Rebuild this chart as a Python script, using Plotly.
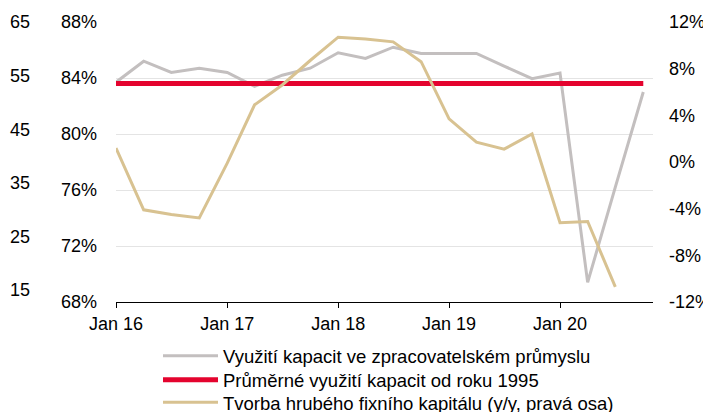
import plotly.graph_objects as go

dates = ["2016-01-01", "2016-04-01", "2016-07-01", "2016-10-01",
         "2017-01-01", "2017-04-01", "2017-07-01", "2017-10-01",
         "2018-01-01", "2018-04-01", "2018-07-01", "2018-10-01",
         "2019-01-01", "2019-04-01", "2019-07-01", "2019-10-01",
         "2020-01-01", "2020-04-01", "2020-07-01", "2020-10-01"]

capacity_util = [83.7, 85.2, 84.4, 84.7, 84.4, 83.4, 84.2, 84.7,
                 85.8, 85.4, 86.2, 85.75, 85.75, 85.75, 84.85, 83.95,
                 84.35, 69.4, 76.2, 83.0]

avg_since_1995 = [83.6] * len(dates)

gfcf_yoy = [1.2, -4.1, -4.5, -4.8, -0.1, 4.9, 6.6, 8.7,
            10.7, 10.55, 10.3, 8.6, 3.7, 1.7, 1.1, 2.4,
            -5.2, -5.1, -10.7]

left_outer_ticks = [15, 25, 35, 45, 55, 65]
left_ticks = [68, 72, 76, 80, 84, 88]
right_ticks = [-12, -8, -4, 0, 4, 8, 12]

names = ["Využití kapacit ve zpracovatelském průmyslu",
         "Průměrné využití kapacit od roku 1995",
         "Tvorba hrubého fixního kapitálu (y/y, pravá osa)"]

GRAY = "#C3BFBF"
RED = "#E4032E"
TAN = "#D8C291"
FONT = "Liberation Sans, Arial, sans-serif"

fig = go.Figure()
fig.add_trace(go.Scatter(x=dates, y=capacity_util, name=names[0], mode="lines",
                         line=dict(color=GRAY, width=3), yaxis="y", legend="legend"))
fig.add_trace(go.Scatter(x=dates, y=avg_since_1995, name=names[1], mode="lines",
                         line=dict(color=RED, width=5), yaxis="y", legend="legend2"))
fig.add_trace(go.Scatter(x=dates[:len(gfcf_yoy)], y=gfcf_yoy, name=names[2], mode="lines",
                         line=dict(color=TAN, width=3), yaxis="y2", legend="legend3"))
# invisible helper so that the outer left scale is drawn
fig.add_trace(go.Scatter(x=[dates[0], dates[-1]], y=[left_outer_ticks[0], left_outer_ticks[-1]],
                         mode="lines", line=dict(width=0), opacity=0, showlegend=False,
                         hoverinfo="skip", yaxis="y3"))

# page body has an 8px margin; the figure overflows the bottom of the window
W, H = 703, 430
x0, x1 = 108 / W, 645 / W
PLOT_TOP, PLOT_BOTTOM = 14, 294
PLOT_H = PLOT_BOTTOM - PLOT_TOP
TICK = 18


def legend_at(top_px):
    return dict(orientation="v", x=150 / W, xanchor="left",
                y=-(top_px - PLOT_BOTTOM) / PLOT_H, yanchor="top",
                font=dict(size=18.5), itemwidth=55, tracegroupgap=0,
                bgcolor="rgba(0,0,0,0)")


fig.update_layout(
    width=W, height=H,
    margin=dict(l=0, r=0, t=PLOT_TOP, b=H - PLOT_BOTTOM, autoexpand=False),
    paper_bgcolor="white", plot_bgcolor="white",
    font=dict(family=FONT, size=TICK, color="#000000"),
    showlegend=True,
    legend=legend_at(329.2),
    legend2=legend_at(353.2),
    legend3=legend_at(375.8),
    xaxis=dict(domain=[x0, x1], type="date", automargin=False,
               range=["2016-01-01", "2020-11-02"],
               tickvals=["2016-01-01", "2017-01-01", "2018-01-01", "2019-01-01", "2020-01-01"],
               ticktext=["Jan 16", "Jan 17", "Jan 18", "Jan 19", "Jan 20"],
               showline=True, linecolor="#000000", linewidth=1,
               ticks="outside", ticklen=5, tickcolor="#000000",
               showgrid=False, zeroline=False, tickfont=dict(size=TICK)),
    yaxis=dict(range=[68, 88], tickvals=left_ticks, automargin=False,
               ticktext=[f"{v}%" for v in left_ticks],
               showgrid=True, gridcolor="#E4E4E4", gridwidth=1,
               zeroline=False, showline=False, ticks="",
               ticklabelstandoff=18, tickfont=dict(size=TICK)),
    yaxis2=dict(range=[-12, 12], tickvals=right_ticks, automargin=False,
                ticktext=[f"{v}%" for v in right_ticks],
                overlaying="y", side="right", anchor="x",
                showgrid=False, zeroline=False, showline=False, ticks="",
                ticklabelstandoff=15, tickfont=dict(size=TICK)),
    yaxis3=dict(range=[12.76, 65], tickvals=left_outer_ticks, automargin=False,
                ticktext=[str(v) for v in left_outer_ticks],
                overlaying="y", side="left", anchor="free", position=24 / W,
                showgrid=False, zeroline=False, showline=False, ticks="",
                ticklabelstandoff=2, tickfont=dict(size=TICK)),
)

fig.write_html("out.html")
